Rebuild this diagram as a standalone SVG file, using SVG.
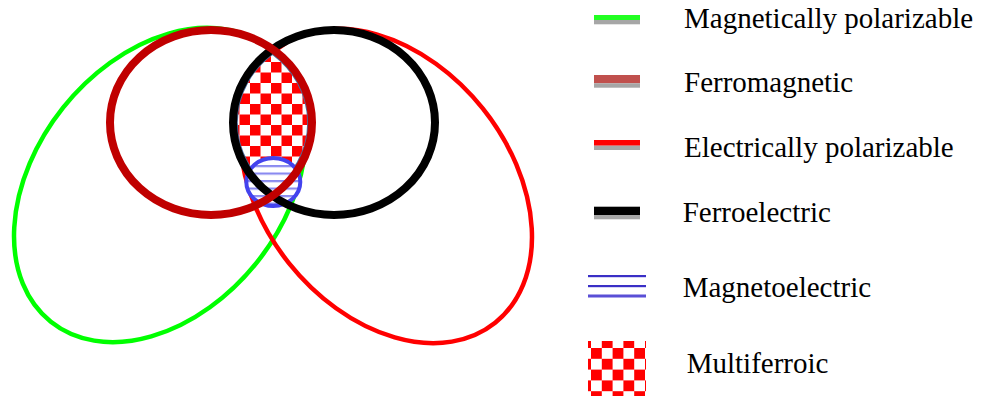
<svg xmlns="http://www.w3.org/2000/svg" width="982" height="398" viewBox="0 0 982 398">
<style>
.lbl{font-family:"Liberation Serif","Times New Roman",serif;font-size:29px;fill:#000}
.thin{fill:none;stroke-width:4.5}
.thick{fill:none;stroke-width:8}
</style>
<defs>
<pattern id="chk" patternUnits="userSpaceOnUse" x="591" y="348" width="21.6" height="21.6">
<rect width="21.6" height="21.6" fill="#fff"/>
<rect x="0" y="0" width="10.8" height="10.8" fill="#ff0000"/>
<rect x="10.8" y="10.8" width="10.8" height="10.8" fill="#ff0000"/>
</pattern>
<pattern id="chk2" patternUnits="userSpaceOnUse" x="250" y="62" width="21" height="21">
<rect width="21" height="21" fill="#fff"/>
<rect x="0" y="0" width="10.5" height="10.5" fill="#ff0000"/>
<rect x="10.5" y="10.5" width="10.5" height="10.5" fill="#ff0000"/>
</pattern>
<pattern id="stripes" patternUnits="userSpaceOnUse" x="0" y="165" width="10" height="7.5">
<rect width="10" height="7.5" fill="#fff"/>
<rect x="0" y="0" width="10" height="2.2" fill="#8a8af0"/>
</pattern>
</defs>
<g id="magnetically-polarizable">
<ellipse cx="160" cy="185" rx="175" ry="124" transform="rotate(-51.4 160 185)" class="thin" stroke="#00ff00"/>
</g>
<g id="electrically-polarizable">
<ellipse cx="386" cy="186" rx="175" ry="124" transform="rotate(51.4 386 186)" class="thin" stroke="#ff0000"/>
</g>
<g id="multiferroic">
<path d="M272.5 54.1 A97 88.5 0 0 1 272.5 190.9 A97 88.5 0 0 1 272.5 54.1 Z" fill="url(#chk2)" stroke="#4f6f9f" stroke-width="1.5"/>
</g>
<g id="magnetoelectric">
<ellipse cx="273.3" cy="182" rx="27" ry="24" fill="url(#stripes)" stroke="#4343ee" stroke-width="4"/>
</g>
<g id="ferroelectric">
<ellipse cx="334" cy="122.5" rx="101" ry="92.5" class="thick" stroke="#000" stroke-width="7"/>
</g>
<g id="ferromagnetic">
<ellipse cx="211" cy="122.5" rx="101" ry="92.5" class="thick" stroke="#c00000"/>
</g>
<g id="legend">
<g id="leg-mag">
<rect x="594" y="15" width="46" height="5" fill="#22ff22"/>
<rect x="594" y="20" width="46" height="4.3" fill="#a6a6a6"/>
<text class="lbl" x="684" y="28.3">Magnetically polarizable</text>
</g>
<g id="leg-ferromag">
<rect x="594" y="75" width="46" height="8.3" fill="#c0504d"/>
<rect x="594" y="83.3" width="46" height="4.4" fill="#a6a6a6"/>
<text class="lbl" x="684" y="91.7">Ferromagnetic</text>
</g>
<g id="leg-elec">
<rect x="594" y="140" width="46" height="5.7" fill="#ff0000"/>
<rect x="594" y="145.7" width="46" height="4.3" fill="#a6a6a6"/>
<text class="lbl" x="684" y="157">Electrically polarizable</text>
</g>
<g id="leg-ferroelec">
<rect x="594" y="206.7" width="46" height="8.3" fill="#000"/>
<rect x="594" y="215" width="46" height="4.3" fill="#a6a6a6"/>
<text class="lbl" x="682.7" y="221.7">Ferroelectric</text>
</g>
<g id="leg-me">
<rect x="588" y="275" width="58" height="2.2" fill="#3a2fc6"/>
<rect x="588" y="285" width="58" height="2.2" fill="#3a2fc6"/>
<rect x="588" y="294.5" width="58" height="3" fill="#5a4fd6"/>
<text class="lbl" x="682.7" y="297.3">Magnetoelectric</text>
</g>
<g id="leg-mf">
<rect x="588" y="341" width="58" height="55" fill="url(#chk)"/>
<text class="lbl" x="686.7" y="373.3">Multiferroic</text>
</g>
</g>
</svg>
